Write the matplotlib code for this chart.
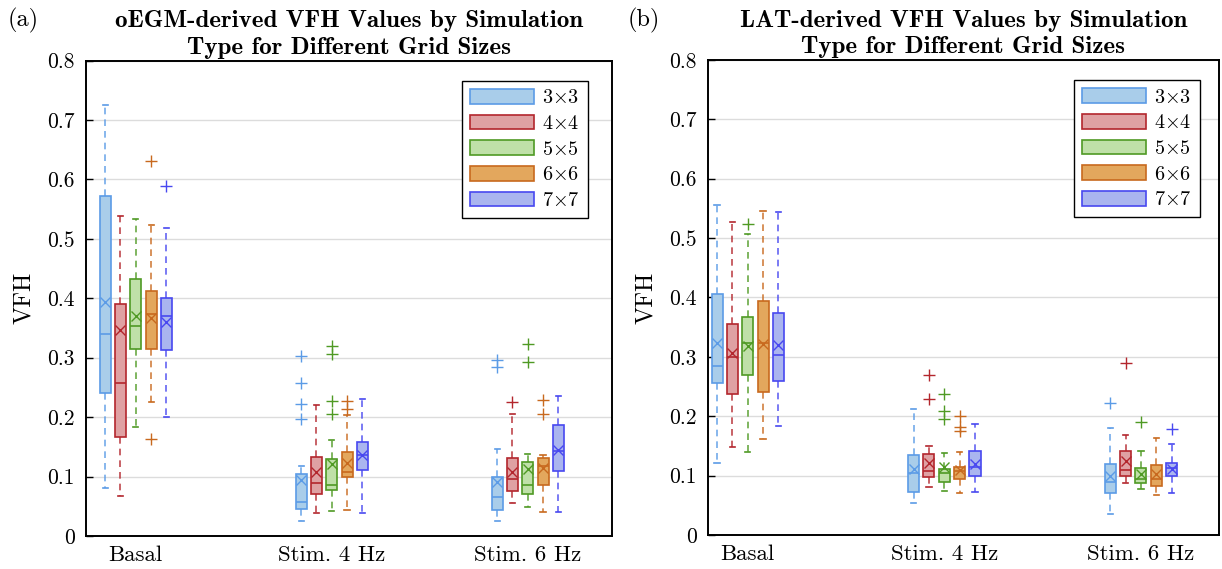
import matplotlib
matplotlib.use("Agg")
import matplotlib.pyplot as plt
from matplotlib.patches import Patch

plt.rcParams['font.family'] = ['cmr10', 'DejaVu Serif']
plt.rcParams['mathtext.fontset'] = 'cm'
plt.rcParams['axes.unicode_minus'] = False

# ---------------- data ----------------
groups = ['Basal', 'Stim. 4 Hz', 'Stim. 6 Hz']
grids = [r'3$\times$3', r'4$\times$4', r'5$\times$5', r'6$\times$6', r'7$\times$7']

# oEGM-derived (panel a): rows = groups, cols = grid sizes
a_lo = [[0.080, 0.067, 0.184, 0.226, 0.200],
        [0.025, 0.039, 0.042, 0.043, 0.039],
        [0.026, 0.056, 0.049, 0.040, 0.040]]
a_q1 = [[0.240, 0.167, 0.314, 0.315, 0.313],
        [0.046, 0.071, 0.078, 0.100, 0.111],
        [0.043, 0.075, 0.071, 0.086, 0.109]]
a_med = [[0.340, 0.257, 0.354, 0.374, 0.370],
         [0.058, 0.090, 0.085, 0.107, 0.136],
         [0.066, 0.096, 0.085, 0.117, 0.143]]
a_q3 = [[0.572, 0.391, 0.432, 0.412, 0.401],
        [0.104, 0.133, 0.129, 0.142, 0.159],
        [0.099, 0.132, 0.125, 0.132, 0.187]]
a_hi = [[0.725, 0.538, 0.533, 0.523, 0.519],
        [0.118, 0.220, 0.162, 0.203, 0.231],
        [0.147, 0.206, 0.138, 0.137, 0.236]]
a_mean = [[0.393, 0.347, 0.371, 0.367, 0.360],
          [0.094, 0.108, 0.122, 0.123, 0.136],
          [0.091, 0.107, 0.112, 0.115, 0.144]]
a_fliers = [[[], [], [], [0.631, 0.163], [0.589]],
            [[0.303, 0.258, 0.222, 0.197], [], [0.319, 0.307, 0.227, 0.205], [0.227, 0.214], []],
            [[0.297, 0.285], [0.226], [0.323, 0.292], [0.229, 0.206], []]]

# LAT-derived (panel b)
b_lo = [[0.122, 0.148, 0.140, 0.162, 0.183],
        [0.054, 0.080, 0.074, 0.070, 0.073],
        [0.035, 0.088, 0.077, 0.067, 0.071]]
b_q1 = [[0.256, 0.237, 0.270, 0.240, 0.260],
        [0.072, 0.098, 0.089, 0.094, 0.099],
        [0.070, 0.100, 0.087, 0.082, 0.100]]
b_med = [[0.285, 0.300, 0.324, 0.323, 0.303],
         [0.105, 0.108, 0.105, 0.108, 0.115],
         [0.090, 0.109, 0.095, 0.095, 0.112]]
b_q3 = [[0.406, 0.356, 0.367, 0.394, 0.373],
        [0.135, 0.136, 0.111, 0.115, 0.142],
        [0.119, 0.141, 0.113, 0.118, 0.122]]
b_hi = [[0.555, 0.527, 0.506, 0.546, 0.543],
        [0.212, 0.149, 0.138, 0.139, 0.187],
        [0.180, 0.168, 0.142, 0.164, 0.153]]
b_mean = [[0.324, 0.307, 0.319, 0.321, 0.320],
          [0.111, 0.122, 0.115, 0.110, 0.119],
          [0.099, 0.124, 0.102, 0.102, 0.111]]
b_fliers = [[[], [], [0.523], [], []],
            [[], [0.270, 0.229], [0.237, 0.208, 0.196], [0.200, 0.181, 0.175], []],
            [[0.222], [0.290], [0.190], [], [0.178]]]

yticks = [0, 0.1, 0.2, 0.3, 0.4, 0.5, 0.6, 0.7, 0.8]
yticklabels = ['0', '0.1', '0.2', '0.3', '0.4', '0.5', '0.6', '0.7', '0.8']

edge_colors = ['#5b9be6', '#b3262d', '#4f9a24', '#c8691e', '#4848f0']
face_colors = ['#a9cdea', '#dfa1a3', '#bfe0a8', '#e3a75d', '#aab5ef']

titles = ['oEGM-derived VFH Values by Simulation\nType for Different Grid Sizes',
          'LAT-derived VFH Values by Simulation\nType for Different Grid Sizes']
panel_tags = ['(a)', '(b)']

# ---------------- figure ----------------
W, H = 1222, 569
fig = plt.figure(figsize=(W / 100, H / 100), dpi=100)
axL = fig.add_axes([86 / W, 33 / H, 526 / W, 475.4 / H])
axR = fig.add_axes([708 / W, 34 / H, 511 / W, 475.2 / H])

step = 0.078
bw = 0.056


def draw(ax, lo, q1, med, q3, hi, mean, fliers, xlim):
    for g in range(len(groups)):
        for k in range(len(grids)):
            st = dict(whislo=lo[g][k], q1=q1[g][k], med=med[g][k], q3=q3[g][k],
                      whishi=hi[g][k], mean=mean[g][k], fliers=fliers[g][k])
            ec, fc = edge_colors[k], face_colors[k]
            ax.bxp([st], positions=[g + 1 + (k - 2) * step], widths=bw,
                   patch_artist=True, showmeans=True, meanline=False,
                   capwidths=0.026, manage_ticks=False,
                   boxprops=dict(facecolor=fc, edgecolor=ec, linewidth=1.2),
                   whiskerprops=dict(color=ec, linestyle=(0, (4, 3)), linewidth=1.2, alpha=0.85),
                   capprops=dict(color=ec, linewidth=1.2),
                   medianprops=dict(color=ec, linewidth=1.2),
                   meanprops=dict(marker='x', markeredgecolor=ec, markerfacecolor=ec,
                                  markersize=6.5, markeredgewidth=1.0),
                   flierprops=dict(marker='+', markeredgecolor=ec, markersize=9,
                                   markeredgewidth=1.0))
    ax.set_xlim(*xlim)
    ax.set_ylim(0, 0.8)
    ax.set_yticks(yticks)
    ax.set_yticklabels(yticklabels)
    ax.set_xticks([1, 2, 3])
    ax.set_xticklabels(groups)
    ax.tick_params(axis='y', direction='in', length=5, width=1.0, labelsize=15.5, pad=8)
    ax.tick_params(axis='x', length=0, labelsize=16.5, pad=7)
    ax.set_axisbelow(True)
    ax.yaxis.grid(True, color='#dcdcdc', linewidth=1.0)
    for s in ax.spines.values():
        s.set_linewidth(1.4)
        s.set_color('black')
    ax.set_ylabel('VFH', fontsize=17.5, labelpad=9)
    handles = [Patch(facecolor=face_colors[k], edgecolor=edge_colors[k], linewidth=1.2)
               for k in range(len(grids))]
    return handles


hL = draw(axL, a_lo, a_q1, a_med, a_q3, a_hi, a_mean, a_fliers, (0.746, 3.43))
hR = draw(axR, b_lo, b_q1, b_med, b_q3, b_hi, b_mean, b_fliers, (0.798, 3.397))

for ax, h, bx in [(axL, hL, (588 - 86) / 526), (axR, hR, (1200 - 708) / 511)]:
    leg = ax.legend(h, grids, loc='upper right', bbox_to_anchor=(bx, 0.957),
                    borderaxespad=0, fontsize=14.5, handlelength=3.2, handleheight=0.75,
                    labelspacing=0.36, handletextpad=0.4, borderpad=0.4,
                    fancybox=False, framealpha=1, edgecolor='black')
    leg.get_frame().set_linewidth(1.0)

for ax, t in zip([axL, axR], titles):
    ax.set_title(t, fontsize=18, family=['cmb10'], pad=5, linespacing=1.25)

fig.text(8 / W, 1 - 20 / H, panel_tags[0], fontsize=17.5, va='center', ha='left')
fig.text(628 / W, 1 - 20 / H, panel_tags[1], fontsize=17.5, va='center', ha='left')

fig.savefig('out.png', dpi=100)
